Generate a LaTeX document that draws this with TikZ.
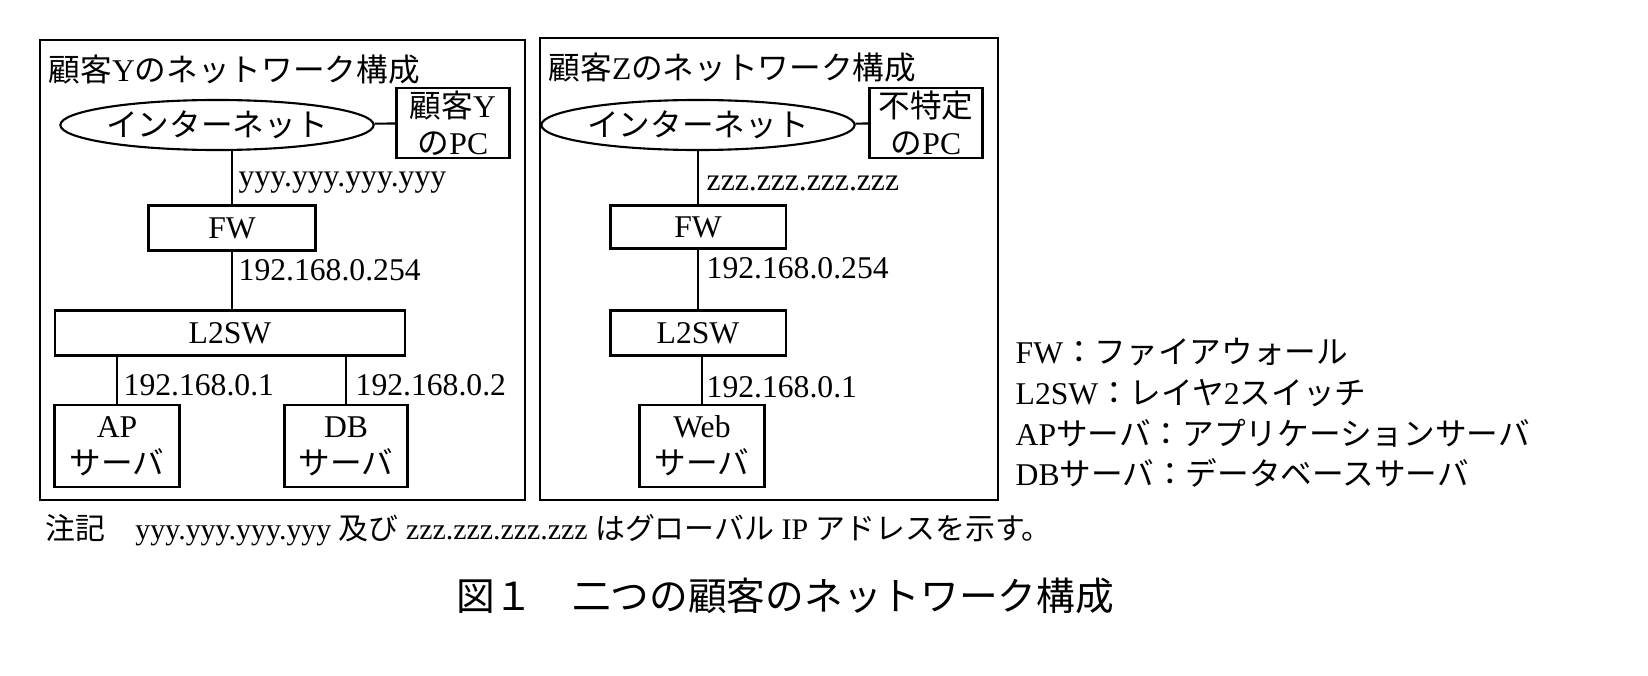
\documentclass[tikz,border=0pt]{standalone}
\usepackage{fontspec}
\setmainfont{Liberation Serif}
\newfontfamily\cjk{Noto Sans CJK JP}
\usetikzlibrary{positioning,shapes.geometric}
\begin{document}
\begin{tikzpicture}[x=0.01cm,y=-0.01cm,
  txt/.style={font=\fontsize{9}{10.5}\selectfont, inner sep=0pt},
  box/.style={draw, line width=0.6pt, minimum width=#1, inner sep=0pt, font=\fontsize{9}{10.5}\selectfont, align=center},
  ln/.style={line width=0.6pt}]
\useasboundingbox (0,0) rectangle (1648,676);
% frames
\draw[ln] (40,40) rectangle (525,500);
\draw[ln] (540,38) rectangle (998,500);
\node[txt, anchor=west] (tY) at (48,70) {{\cjk 顧客}Y{\cjk のネットワーク構成}};
\node[txt, anchor=west] (tZ) at (548,68) {{\cjk 顧客}Z{\cjk のネットワーク構成}};
% customer Y
\node[draw, ln, ellipse, minimum width=3.05cm, minimum height=0.5cm, txt] (inY) at (217,125) {\cjk インターネット};
\node[box=1.13cm, minimum height=0.7cm] (pcY) at (453,123) {{\cjk 顧客}Y\\{\cjk の}PC};
\node[box=1.67cm, minimum height=0.45cm] (fwY) at (232,228) {FW};
\node[box=3.5cm, minimum height=0.45cm] (swY) at (230,333) {L2SW};
\node[box=1.25cm, minimum height=0.82cm] (ap) at (117,446) {AP\\{\cjk サーバ}};
\node[box=1.23cm, minimum height=0.82cm] (db) at (346,446) {DB\\{\cjk サーバ}};
\draw[ln] (inY) -- (pcY);
\draw[ln] (fwY.north) -- (fwY.north |- inY.south);
\draw[ln] (fwY) -- (fwY |- swY.north);
\draw[ln] (ap.north) -- (ap.north |- swY.south);
\draw[ln] (db.north) -- (db.north |- swY.south);
\node[txt, anchor=west] (ipY) at (238,183) {yyy.yyy.yyy.yyy};
\node[txt, anchor=west] (ipY2) at (238,270) {192.168.0.254};
\node[txt, anchor=west] (ipA) at (123,385) {192.168.0.1};
\node[txt, anchor=west] (ipD) at (355,385) {192.168.0.2};
% customer Z
\node[draw, ln, ellipse, minimum width=2.7cm, minimum height=0.5cm, txt] (inZ) at (698,125) {\cjk インターネット};
\node[box=1.13cm, minimum height=0.7cm] (pcZ) at (926,123) {{\cjk 不特定}\\{\cjk の}PC};
\node[box=1.75cm, minimum height=0.43cm] (fwZ) at (698,227) {FW};
\node[box=1.75cm, minimum height=0.45cm] (swZ) at (698,333) {L2SW};
\node[box=1.25cm, minimum height=0.82cm] (web) at (702,446) {Web\\{\cjk サーバ}};
\draw[ln] (inZ) -- (pcZ);
\draw[ln] (fwZ.north) -- (fwZ.north |- inZ.south);
\draw[ln] (fwZ) -- (swZ);
\draw[ln] (web.north) -- (web.north |- swZ.south);
\node[txt, anchor=west] (ipZ) at (706,183) {zzz.zzz.zzz.zzz};
\node[txt, anchor=west] (ipZ2) at (706,268) {192.168.0.254};
\node[txt, anchor=west] (ipW) at (706,387) {192.168.0.1};
% legend
\node[txt, anchor=west] (l1) at (1015,352) {FW{\cjk：ファイアウォール}};
\node[txt, anchor=west] (l2) at (1015,393) {L2SW{\cjk：レイヤ}2{\cjk スイッチ}};
\node[txt, anchor=west] (l3) at (1015,433) {AP{\cjk サーバ：アプリケーションサーバ}};
\node[txt, anchor=west] (l4) at (1015,473) {DB{\cjk サーバ：データベースサーバ}};
% note and caption
\node[txt, anchor=west, font=\fontsize{8.5}{10}\selectfont] (note) at (45,530) {{\cjk 注記}\quad yyy.yyy.yyy.yyy {\cjk 及び} zzz.zzz.zzz.zzz {\cjk はグローバル} IP {\cjk アドレスを示す。}};
\node[txt, font=\fontsize{11}{13}\selectfont] (cap) at (785,596) {\cjk 図１\quad 二つの顧客のネットワーク構成};
\end{tikzpicture}
\end{document}
